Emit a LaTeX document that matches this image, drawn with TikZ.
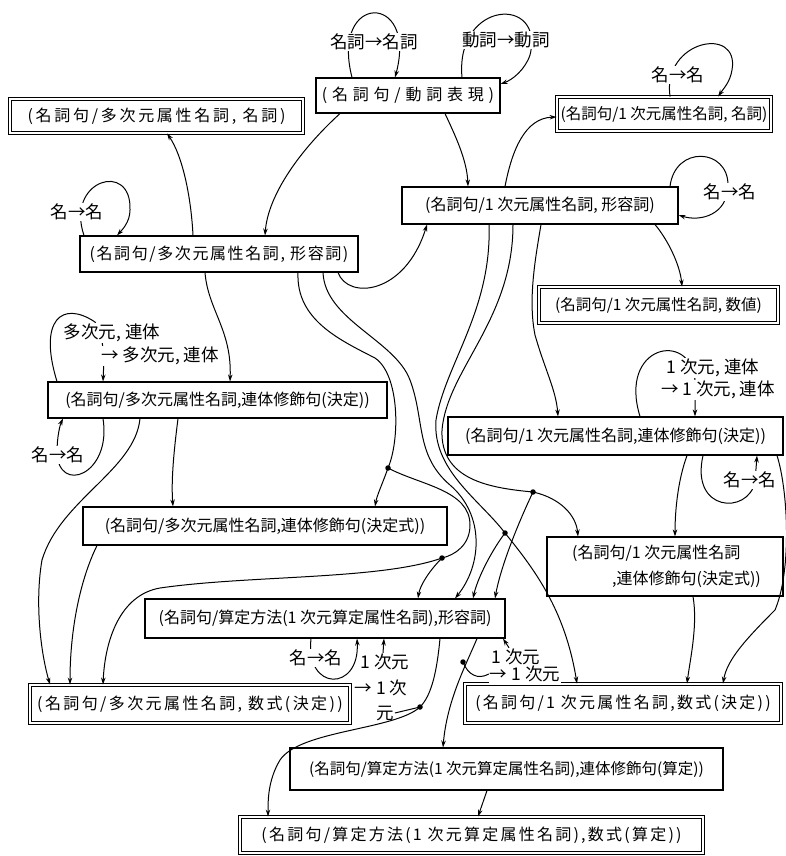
\documentclass[tikz,border=0pt]{standalone}
\usepackage{fontspec}
\setmainfont{Noto Sans CJK JP}
\newfontfamily\jpA[LetterSpace=30]{Noto Sans CJK JP}
\newfontfamily\jpB[LetterSpace=17]{Noto Sans CJK JP}
\newfontfamily\jpC[LetterSpace=10]{Noto Sans CJK JP}
\newfontfamily\jpL[LetterSpace=15]{Noto Sans CJK JP}
\newfontfamily\jpJ[LetterSpace=14]{Noto Sans CJK JP}
\newfontfamily\jpO[LetterSpace=14]{Noto Sans CJK JP}
\usetikzlibrary{arrows.meta}
\begin{document}
\begin{tikzpicture}[x=1pt,y=-1pt,
  font=\fontsize{16}{19}\selectfont,
  box/.style={draw, line width=1.1pt, inner sep=0pt},
  dbox/.style={draw, double, double distance=2.2pt, line width=0.9pt, inner sep=0pt},
  small/.style={font=\fontsize{15.5}{19}\selectfont},
  edge/.style={line width=1pt, -{Stealth[length=7pt,width=4.5pt]}},
  ln/.style={line width=1pt},
  lbl/.style={fill=white, inner sep=1pt, font=\fontsize{17.5}{20}\selectfont},
  dotn/.style={circle, fill, inner sep=0pt, minimum size=5.5pt}]
\useasboundingbox (0,0) rectangle (786,856);

% boxes
\node[box, minimum width=184pt, minimum height=35pt] (A) at (408,95.5) {\jpA(名詞句/動詞表現)};
\node[dbox, minimum width=293pt, minimum height=34pt] (B) at (156.5,116) {\jpB(名詞句/多次元属性名詞, 名詞)};
\node[box, minimum width=278pt, minimum height=36pt] (C) at (219,254) {\jpC(名詞句/多次元属性名詞, 形容詞)};
\node[dbox, small, minimum width=214pt, minimum height=34pt] (D) at (664,114) {(名詞句/1 次元属性名詞, 名詞)};
\node[box, minimum width=276pt, minimum height=37pt] (E) at (540,205.5) {(名詞句/1 次元属性名詞, 形容詞)};
\node[dbox, small, minimum width=239pt, minimum height=36pt] (F) at (658.5,305) {(名詞句/1 次元属性名詞, 数値)};
\node[box, minimum width=335pt, minimum height=38pt] (G) at (615.5,436) {(名詞句/1 次元属性名詞,連体修飾句(決定))};
\node[box, minimum width=236pt, minimum height=59pt] (H) at (665,566.5) {};
\node[anchor=west, inner sep=0pt] (H1) at (572,553) {(名詞句/1 次元属性名詞};
\node[anchor=west, inner sep=0pt] (H2) at (612,579) {,連体修飾句(決定式))};
\node[box, minimum width=364pt, minimum height=38pt] (I) at (265,526) {(名詞句/多次元属性名詞,連体修飾句(決定式))};
\node[box, minimum width=339pt, minimum height=36pt] (K) at (217.5,400) {(名詞句/多次元属性名詞,連体修飾句(決定))};
\node[dbox, minimum width=320pt, minimum height=38pt] (L) at (190,704) {\jpL(名詞句/多次元属性名詞, 数式(決定))};
\node[box, minimum width=360pt, minimum height=39pt] (M) at (325,618.5) {(名詞句/算定方法(1 次元算定属性名詞),形容詞)};
\node[dbox, minimum width=316pt, minimum height=39pt] (J) at (623,703.5) {\jpJ(名詞句/1 次元属性名詞,数式(決定))};
\node[box, small, minimum width=433pt, minimum height=42pt] (N) at (506.5,769) {(名詞句/算定方法(1 次元算定属性名詞),連体修飾句(算定))};
\node[dbox, minimum width=463pt, minimum height=36pt] (O) at (471.5,835) {\jpO(名詞句/算定方法(1 次元算定属性名詞),数式(算定))};

% junction dots
\node[dotn] (d1) at (388,468) {};
\node[dotn] (d2) at (442,558) {};
\node[dotn] (d3) at (505,533) {};
\node[dotn] (d4) at (533,492) {};
\node[dotn] (dM1) at (420,707) {};
\node[dotn] (dM2) at (463,662) {};

% self loops (drawn before labels)
\draw[edge] (A.north -| 352,0) .. controls (330,-8) and (418,-8) .. (A.north -| 395,0);
\draw[edge] (A.north -| 462,0) .. controls (455,0) and (545,-5) .. (530,55) .. controls (525,70) and (512,80) .. (A.east |- 0,84);
\draw[edge] (C.north -| 84,0) .. controls (65,180) and (132,160) .. (130,210) .. controls (130,222) and (122,230) .. (C.north -| 117,0);
\draw[edge] (D.north -| 670,0) .. controls (662,40) and (740,25) .. (732,70) .. controls (730,82) and (724,88) .. (D.north -| 718,0);
\draw[edge] (E.north -| 670,0) .. controls (675,145) and (728,148) .. (728,185) .. controls (728,215) and (700,222) .. (E.east |- 0,215);
\draw[edge] (K.north -| 57,0) .. controls (38,320) and (62,300) .. (95,322) .. controls (105,340) and (104,360) .. (K.north -| 103,0);
\draw[edge] (K.south -| 103,0) .. controls (112,475) and (58,495) .. (57,452) .. controls (57,437) and (60,425) .. (K.south -| 63,0);
\draw[edge] (G.north -| 640,0) .. controls (618,345) and (690,330) .. (695,380) -- (G.north -| 695,0);
\draw[edge] (G.south -| 703,0) .. controls (690,512) and (748,515) .. (755,482) -- (G.south -| 757,0);
\draw[edge] (M.south -| 311,0) .. controls (305,692) and (360,692) .. (M.south -| 357,0);

% loop labels
\node[lbl] (lA1) at (374,42) {名詞→名詞};
\node[lbl] (lA2) at (506,40) {動詞→動詞};
\node[lbl] (lC) at (77,212) {名→名};
\node[lbl] (lD) at (678,75) {名→名};
\node[lbl] (lE) at (730,192) {名→名};
\node[lbl] (lK1) at (112,333) {多次元, 連体};
\node[lbl] (lK2) at (160,356) {→ 多次元, 連体};
\node[lbl] (lK3) at (58,455) {名→名};
\node[lbl] (lG1) at (713,368) {1 次元, 連体};
\node[lbl] (lG2) at (718,390) {→ 1 次元, 連体};
\node[lbl] (lG3) at (750,480) {名→名};
\node[lbl] (lM1) at (316,658) {名→名};
\node[lbl] (lM2) at (385,662) {1 次元};
\node[lbl] (lM3) at (381,688) {→ 1 次};
\node[lbl] (lM4) at (385,713) {元};
\node[lbl] (lM5) at (516,657) {1 次元};
\node[lbl] (lM6) at (525,674) {→ 1 次元};

% M loops pieces
\draw[edge] (lM2.north -| 383,0) -- (M.south -| 384,0);
\draw[ln] (dM1.center) -- (lM4.east);
\draw[ln] (dM2.center) .. controls (468,675) and (478,680) .. (lM6.west);
\draw[edge] (lM5.north -| 509,0) -- (M.south -| 503,0);

% main edges
\draw[edge] (A.south -| 340,0) .. controls (300,150) and (268,195) .. (C.north -| 265,0);
\draw[edge] (C.north -| 193,0) .. controls (191,195) and (182,155) .. (B.south -| 167,0);
\draw[edge] (A.south -| 445,0) .. controls (455,135) and (467,160) .. (E.north -| 468,0);
\draw[edge] (E.north -| 505,0) .. controls (512,150) and (525,118) .. (D.west |- 0,117);
\draw[edge] (E.south -| 655,0) .. controls (668,240) and (680,265) .. (F.north -| 682,0);
\draw[edge] (C.south -| 338,0) .. controls (348,300) and (405,295) .. (E.south -| 427,0);
\draw[edge] (E.south -| 541,0) .. controls (535,260) and (528,300) .. (535,335) .. controls (545,370) and (556,390) .. (G.north -| 558,0);
\draw[edge] (C.south -| 205,0) .. controls (208,310) and (232,330) .. (K.north -| 230,0);
\draw[edge] (K.south -| 178,0) .. controls (174,450) and (171,480) .. (I.north -| 173,0);
\draw[edge] (K.south -| 140,0) .. controls (135,470) and (60,500) .. (42,560) .. controls (35,600) and (40,650) .. (L.north -| 50,0);
\draw[edge] (I.south -| 97,0) .. controls (80,580) and (70,630) .. (L.north -| 70,0);
\draw[edge] (G.south -| 687,0) .. controls (678,480) and (675,510) .. (H.north -| 675,0);
\draw[edge] (H.south -| 693,0) .. controls (698,625) and (690,660) .. (J.north -| 687,0);
\draw[edge] (G.south -| 777,0) .. controls (788,490) and (792,570) .. (775,610) .. controls (745,640) and (727,660) .. (J.north -| 723,0);
\draw[edge] (N.south -| 487,0) -- (O.north -| 478,0);
\draw[edge] (M.south -| 477,0) .. controls (466,665) and (447,700) .. (N.north -| 443,0);
\draw[ln] (M.south -| 440,0) .. controls (437,670) and (432,695) .. (dM1.center);
\draw[edge] (dM1.center) .. controls (395,730) and (300,730) .. (280,760) .. controls (268,780) and (268,800) .. (O.north -| 268,0);

% tangle from C
\draw[ln] (C.south -| 298,0) .. controls (296,320) and (340,340) .. (375,358) .. controls (400,375) and (400,440) .. (d1.center);
\draw[edge] (d1.center) .. controls (382,485) and (377,495) .. (I.north -| 375,0);
\draw[ln] (d1.center) .. controls (420,485) and (470,490) .. (470,525) .. controls (470,545) and (455,555) .. (d2.center);
\draw[edge] (d2.center) .. controls (430,570) and (420,585) .. (M.north -| 418,0);
\draw[edge] (d2.center) .. controls (380,580) and (250,575) .. (160,588) .. controls (120,595) and (105,640) .. (L.north -| 103,0);
\draw[edge] (C.south -| 323,0) .. controls (325,320) and (395,340) .. (410,380) .. controls (425,420) and (415,455) .. (450,485) .. controls (485,515) and (482,565) .. (M.north -| 455,0);

% tangle from E
\draw[ln] (E.south -| 489,0) .. controls (492,310) and (445,365) .. (436,420) .. controls (432,470) and (480,500) .. (d3.center);
\draw[edge] (d3.center) .. controls (535,570) and (565,610) .. (J.north -| 577,0);
\draw[edge] (d3.center) .. controls (490,553) and (477,580) .. (M.north -| 473,0);
\draw[ln] (E.south -| 513,0) .. controls (513,320) and (447,370) .. (442,430) .. controls (440,480) and (490,488) .. (d4.center);
\draw[edge] (d4.center) .. controls (560,498) and (576,515) .. (H.north -| 578,0);
\draw[edge] (d4.center) .. controls (515,530) and (500,570) .. (M.north -| 495,0);
\end{tikzpicture}
\end{document}
